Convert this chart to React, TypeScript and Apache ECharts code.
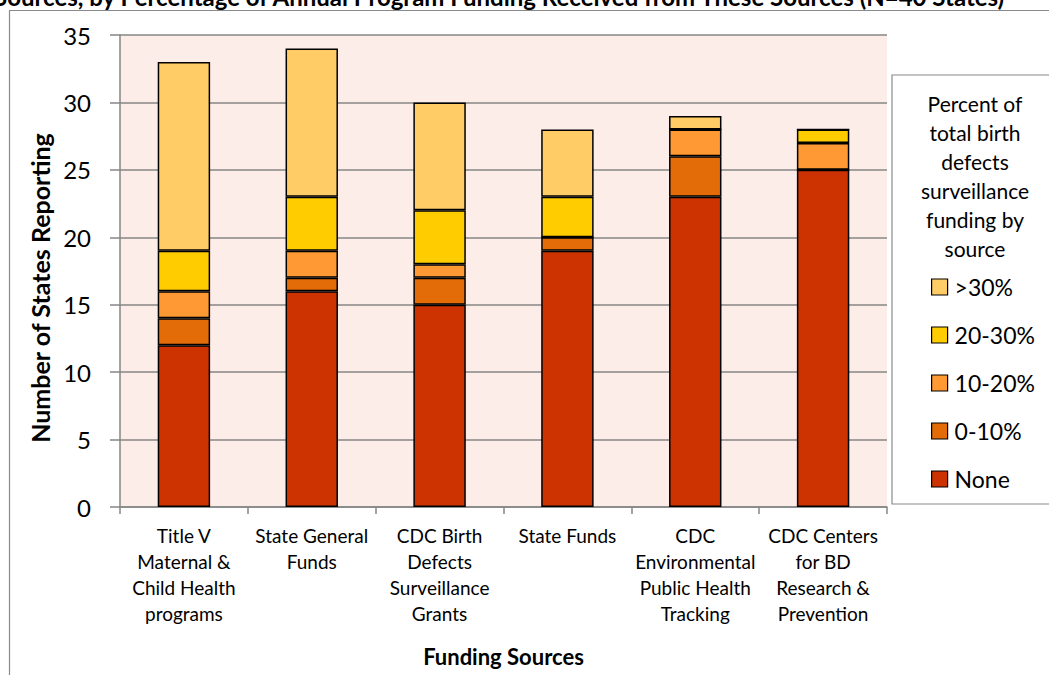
import React, { useEffect, useRef } from "react";
import * as echarts from "echarts";

const categories = [
  "Title V\nMaternal &\nChild Health\nprograms",
  "State General\nFunds",
  "CDC Birth\nDefects\nSurveillance\nGrants",
  "State Funds",
  "CDC\nEnvironmental\nPublic Health\nTracking",
  "CDC Centers\nfor BD\nResearch &\nPrevention",
];

const seriesNames = ["None", "0-10%", "10-20%", "20-30%", ">30%"];
const noneValues = [12, 16, 15, 19, 23, 25];
const pct0to10 = [2, 1, 2, 1, 3, 0];
const pct10to20 = [2, 2, 1, 0, 2, 2];
const pct20to30 = [3, 4, 4, 3, 0, 1];
const pctOver30 = [14, 11, 8, 5, 1, 0];
const seriesColors = ["#CC3300", "#E36C09", "#FF9933", "#FFCC00", "#FFCC66"];
const legendOrder = [">30%", "20-30%", "10-20%", "0-10%", "None"];
const yTicks = { min: 0, max: 35, interval: 5 };

const titleText =
  "Sources, by Percentage of Annual Program Funding Received from These Sources (N=40 States)";
const legendTitle = "Percent of\ntotal birth\ndefects\nsurveillance\nfunding by\nsource";

export default function App() {
  const ref = useRef<HTMLDivElement>(null);

  useEffect(() => {
    if (!ref.current) return;
    const chart = echarts.init(ref.current, null, { renderer: "svg" });
    const values = [noneValues, pct0to10, pct10to20, pct20to30, pctOver30];
    const option = {
      animation: false,
      textStyle: { fontFamily: "Lato", color: "#000" },
      grid: {
        left: 120,
        right: 162,
        top: 35,
        bottom: 168,
        show: true,
        backgroundColor: "#FCEDE8",
        borderWidth: 0,
      },
      legend: {
        data: legendOrder,
        orient: "vertical",
        left: 931,
        top: 275,
        padding: 0,
        itemWidth: 16,
        itemHeight: 16,
        itemGap: 24,
        icon: "rect",
        selectedMode: false,
        textStyle: { fontSize: 23, lineHeight: 24, color: "#000", fontFamily: "Lato", padding: [0, 0, 0, 2] },
        itemStyle: { borderColor: "#000", borderWidth: 1.2 },
      },
      xAxis: {
        type: "category",
        data: categories,
        name: "Funding Sources",
        nameLocation: "middle",
        nameGap: 138,
        nameTextStyle: { fontSize: 22, fontWeight: "bold", color: "#000", fontFamily: "Lato" },
        axisLine: { show: true, lineStyle: { color: "#868686", width: 1.5 } },
        axisTick: { show: true, length: 7, lineStyle: { color: "#868686", width: 1.5 } },
        axisLabel: { fontSize: 19, lineHeight: 26, margin: 15, color: "#000", interval: 0 },
      },
      yAxis: {
        type: "value",
        min: yTicks.min,
        max: yTicks.max,
        interval: yTicks.interval,
        name: "Number of States Reporting",
        nameLocation: "middle",
        nameGap: 66,
        nameRotate: 90,
        nameTextStyle: {
          fontSize: 25,
          fontWeight: "bold",
          color: "#000",
          fontFamily: "Lato",
          padding: [0, 34, 0, 0],
        },
        axisLine: { show: true, lineStyle: { color: "#868686", width: 1.5 } },
        axisTick: { show: true, length: 10, lineStyle: { color: "#868686", width: 1.5 } },
        axisLabel: { fontSize: 24, margin: 29, color: "#000" },
        splitLine: { show: true, lineStyle: { color: "#868686", width: 1.5 } },
      },
      graphic: [
        {
          type: "rect",
          left: 7,
          top: 8,
          shape: { width: 1200, height: 800 },
          style: { fill: "none", stroke: "#8a8a8a", lineWidth: 1.2 },
          silent: true,
          z: -10,
        },
        {
          type: "rect",
          x: 892,
          y: 75,
          shape: { width: 200, height: 429 },
          style: { fill: "#fff", stroke: "#8a8a8a", lineWidth: 1.2 },
          silent: true,
          z: -5,
        },
        {
          type: "text",
          x: 975,
          y: 89,
          style: {
            text: legendTitle,
            fontFamily: "Lato",
            fontSize: 21,
            lineHeight: 29,
            fill: "#000",
            align: "center",
            verticalAlign: "top",
          },
          silent: true,
        },
        {
          type: "text",
          x: -6,
          y: -3.5,
          style: {
            text: titleText,
            fontFamily: "Lato",
            fontSize: 24,
            fontWeight: "bold",
            fill: "#000",
            align: "left",
            verticalAlign: "middle",
          },
          silent: true,
        },
      ],
      series: seriesNames.map((name, i) => ({
        name,
        type: "bar",
        stack: "total",
        barWidth: "41%",
        data: values[i],
        itemStyle: { color: seriesColors[i], borderColor: "#000", borderWidth: 1.5 },
      })),
    };
    chart.setOption(option);
    return () => chart.dispose();
  }, []);

  return (
    <div
      ref={ref}
      style={{ position: "fixed", left: 0, top: 0, width: 1049, height: 675, background: "#fff" }}
    />
  );
}
